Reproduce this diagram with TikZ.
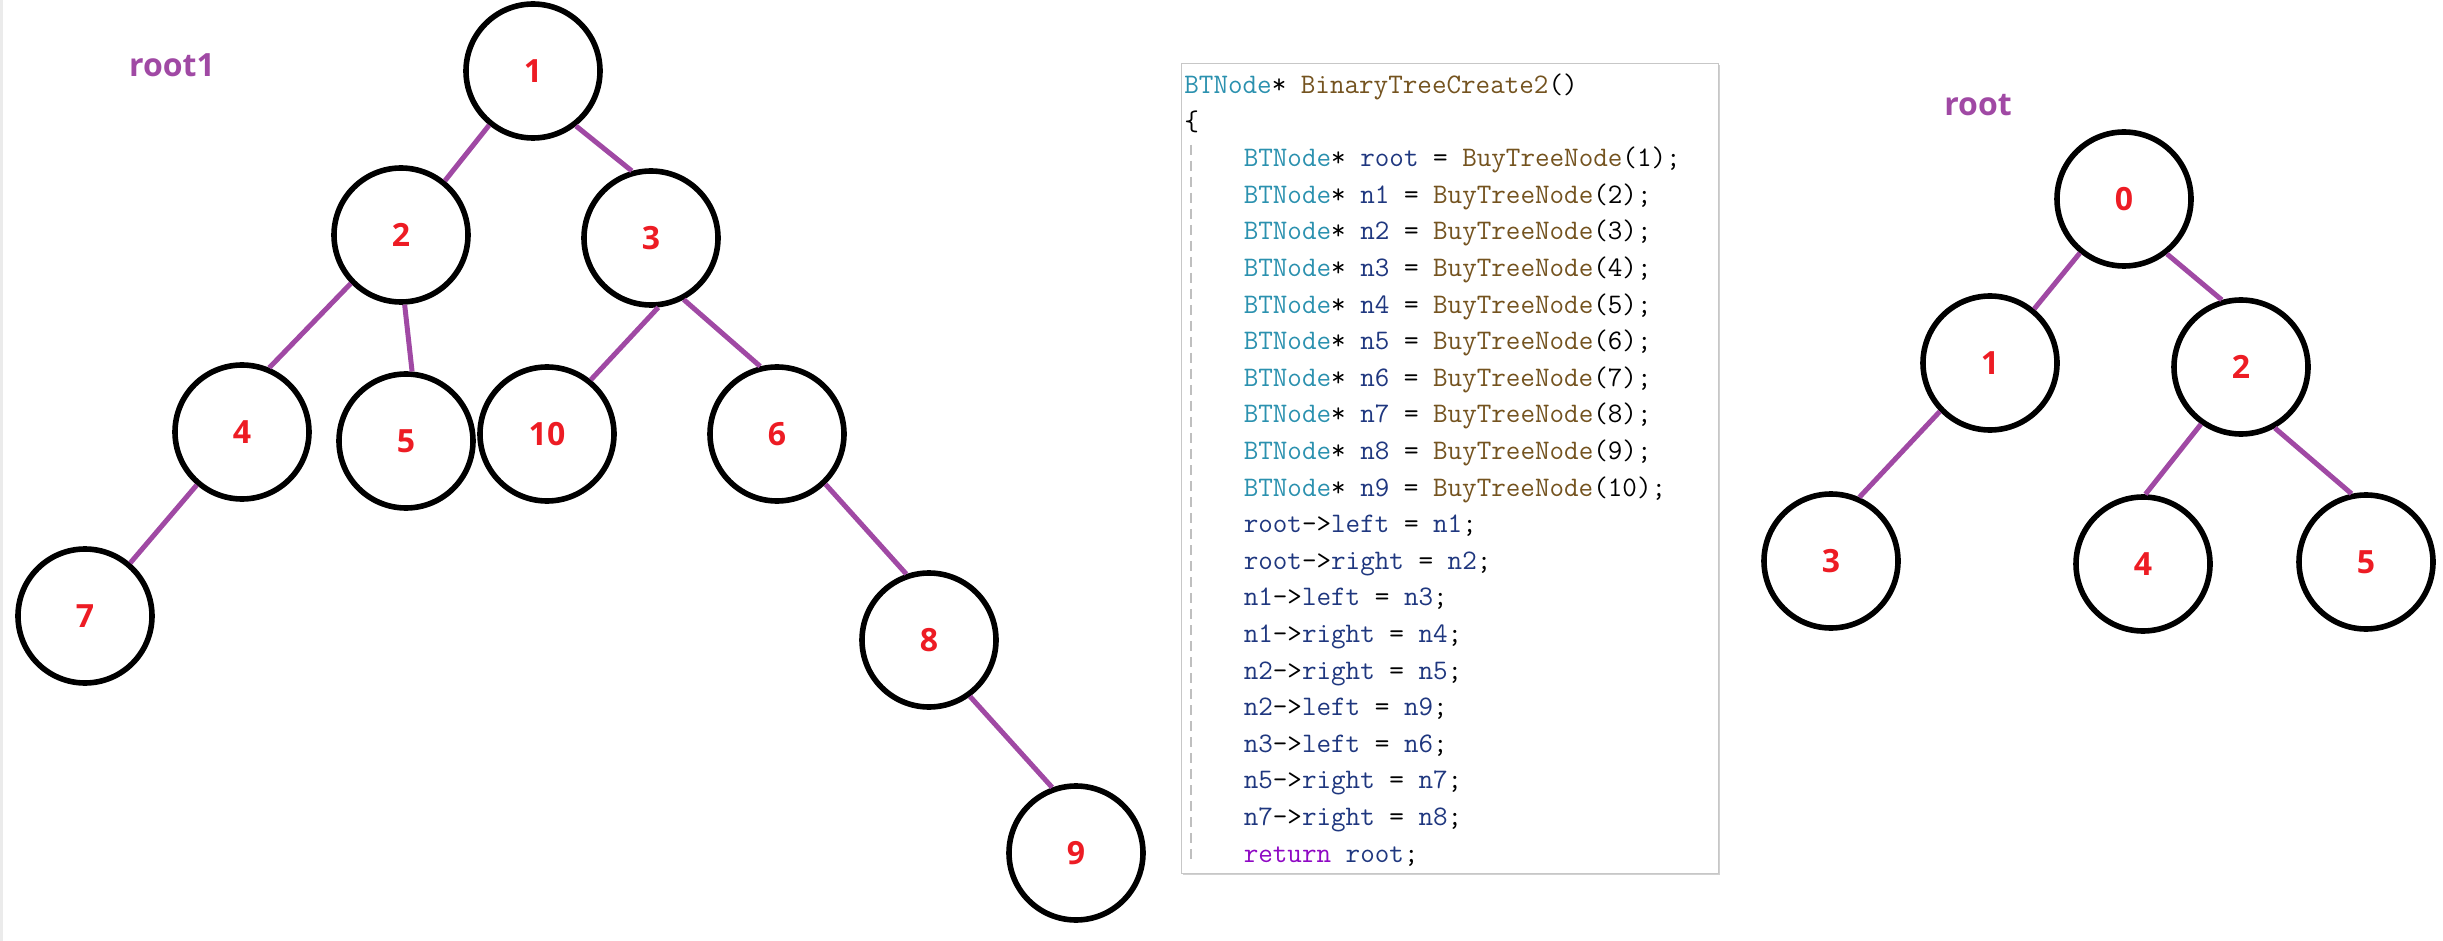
\documentclass[tikz,border=0pt]{standalone}
\usepackage{fontspec}
\usepackage{tikz}
\usetikzlibrary{shapes,positioning,shadows}
\usepackage{xcolor}
\newfontfamily\labelfont{Open Sans}
\definecolor{dfpurple}{RGB}{160,73,164}
\definecolor{dfred}{RGB}{237,28,36}
\definecolor{cdtype}{RGB}{43,145,175}
\definecolor{cdfunc}{RGB}{116,83,31}
\definecolor{cdvar}{RGB}{31,55,127}
\definecolor{cdkey}{RGB}{143,8,196}
\newcommand{\ty}[1]{\textcolor{cdtype}{#1}}
\newcommand{\fn}[1]{\textcolor{cdfunc}{#1}}
\newcommand{\va}[1]{\textcolor{cdvar}{#1}}
\newcommand{\kw}[1]{\textcolor{cdkey}{#1}}
\newcommand{\ind}{\hspace*{2.1em}}
\tikzstyle{tnode} = [circle, draw=black, line width=2.8pt, minimum size=67pt, inner sep=0pt, text=dfred, font=\labelfont\bfseries\fontsize{16}{16}\selectfont]
\tikzstyle{edge} = [line width=2.5pt, color=dfpurple]
\tikzstyle{title} = [text=dfpurple, font=\labelfont\bfseries\fontsize{16}{16}\selectfont]
\tikzstyle{panel} = [rectangle, draw=black!22, fill=white, line width=0.6pt, minimum width=268.5pt, minimum height=405pt, inner sep=0pt, drop shadow={shadow xshift=0.8pt, shadow yshift=-0.8pt, opacity=0.3, fill=black!60}]
\tikzstyle{guide} = [dash pattern=on 5pt off 3pt, line width=0.8pt, color=black!25]

\begin{document}
\begin{tikzpicture}[x=0.5pt, y=-0.5pt]
\useasboundingbox (0,0) rectangle (2443,941);
\fill[black!8] (0,0) rectangle (3,941);

% Titles
\node (root1) [title] at (172,65) {root1};
\node (root) [title] at (1978,105) {root};

% Left tree
\node (a1) [tnode] at (533,71) {1};
\node (a2) [tnode] at (401,235) {2};
\node (a3) [tnode] at (651,238) {3};
\node (a4) [tnode] at (242,432) {4};
\node (a5) [tnode] at (406,441) {5};
\node (a10) [tnode] at (547,434) {10};
\node (a6) [tnode] at (777,434) {6};
\node (a7) [tnode] at (85,616) {7};
\node (a8) [tnode] at (929,640) {8};
\node (a9) [tnode] at (1076,853) {9};

% Right tree
\node (b0) [tnode] at (2124,199) {0};
\node (b1) [tnode] at (1990,363) {1};
\node (b2) [tnode] at (2241,367) {2};
\node (b3) [tnode] at (1831,561) {3};
\node (b4) [tnode] at (2143,564) {4};
\node (b5) [tnode] at (2366,562) {5};

% Code
\node (code panel) [panel, anchor=north west] at (1181,63) {};
\draw[guide] (1191,145) -- (1191,862);
\node (code) [anchor=north west, inner sep=0pt, font=\ttfamily\fontsize{14.14}{18.3}\selectfont] at (1184,67.4) {
\begin{tabular}{@{}l@{}}
\ty{BTNode}* \fn{BinaryTreeCreate2}()\\
\{\\
\ind\ty{BTNode}* \va{root} = \fn{BuyTreeNode}(1);\\
\ind\ty{BTNode}* \va{n1} = \fn{BuyTreeNode}(2);\\
\ind\ty{BTNode}* \va{n2} = \fn{BuyTreeNode}(3);\\
\ind\ty{BTNode}* \va{n3} = \fn{BuyTreeNode}(4);\\
\ind\ty{BTNode}* \va{n4} = \fn{BuyTreeNode}(5);\\
\ind\ty{BTNode}* \va{n5} = \fn{BuyTreeNode}(6);\\
\ind\ty{BTNode}* \va{n6} = \fn{BuyTreeNode}(7);\\
\ind\ty{BTNode}* \va{n7} = \fn{BuyTreeNode}(8);\\
\ind\ty{BTNode}* \va{n8} = \fn{BuyTreeNode}(9);\\
\ind\ty{BTNode}* \va{n9} = \fn{BuyTreeNode}(10);\\
\ind\va{root}->\va{left} = \va{n1};\\
\ind\va{root}->\va{right} = \va{n2};\\
\ind\va{n1}->\va{left} = \va{n3};\\
\ind\va{n1}->\va{right} = \va{n4};\\
\ind\va{n2}->\va{right} = \va{n5};\\
\ind\va{n2}->\va{left} = \va{n9};\\
\ind\va{n3}->\va{left} = \va{n6};\\
\ind\va{n5}->\va{right} = \va{n7};\\
\ind\va{n7}->\va{right} = \va{n8};\\
\ind\kw{return} \va{root};
\end{tabular}
};

% Edges
\draw[edge] (a1.231) -- (a2.51);
\draw[edge] (a1.-52) -- (a3.106);
\draw[edge] (a2.-136) -- (a4.67);
\draw[edge] (a2.-87) -- (a5.85);
\draw[edge] (a3.-84) -- (a10.51);
\draw[edge] (a3.-62) -- (a6.104);
\draw[edge] (a4) -- (a7);
\draw[edge] (a6.-46) -- (a8.109);
\draw[edge] (a8.-54) -- (a9.110);
\draw[edge] (b0) -- (b1);
\draw[edge] (b0.-52) -- (b2.106);
\draw[edge] (b1.-136) -- (b3.66);
\draw[edge] (b2.-125) -- (b4.88);
\draw[edge] (b2.-61) -- (b5.102);
\end{tikzpicture}
\end{document}
